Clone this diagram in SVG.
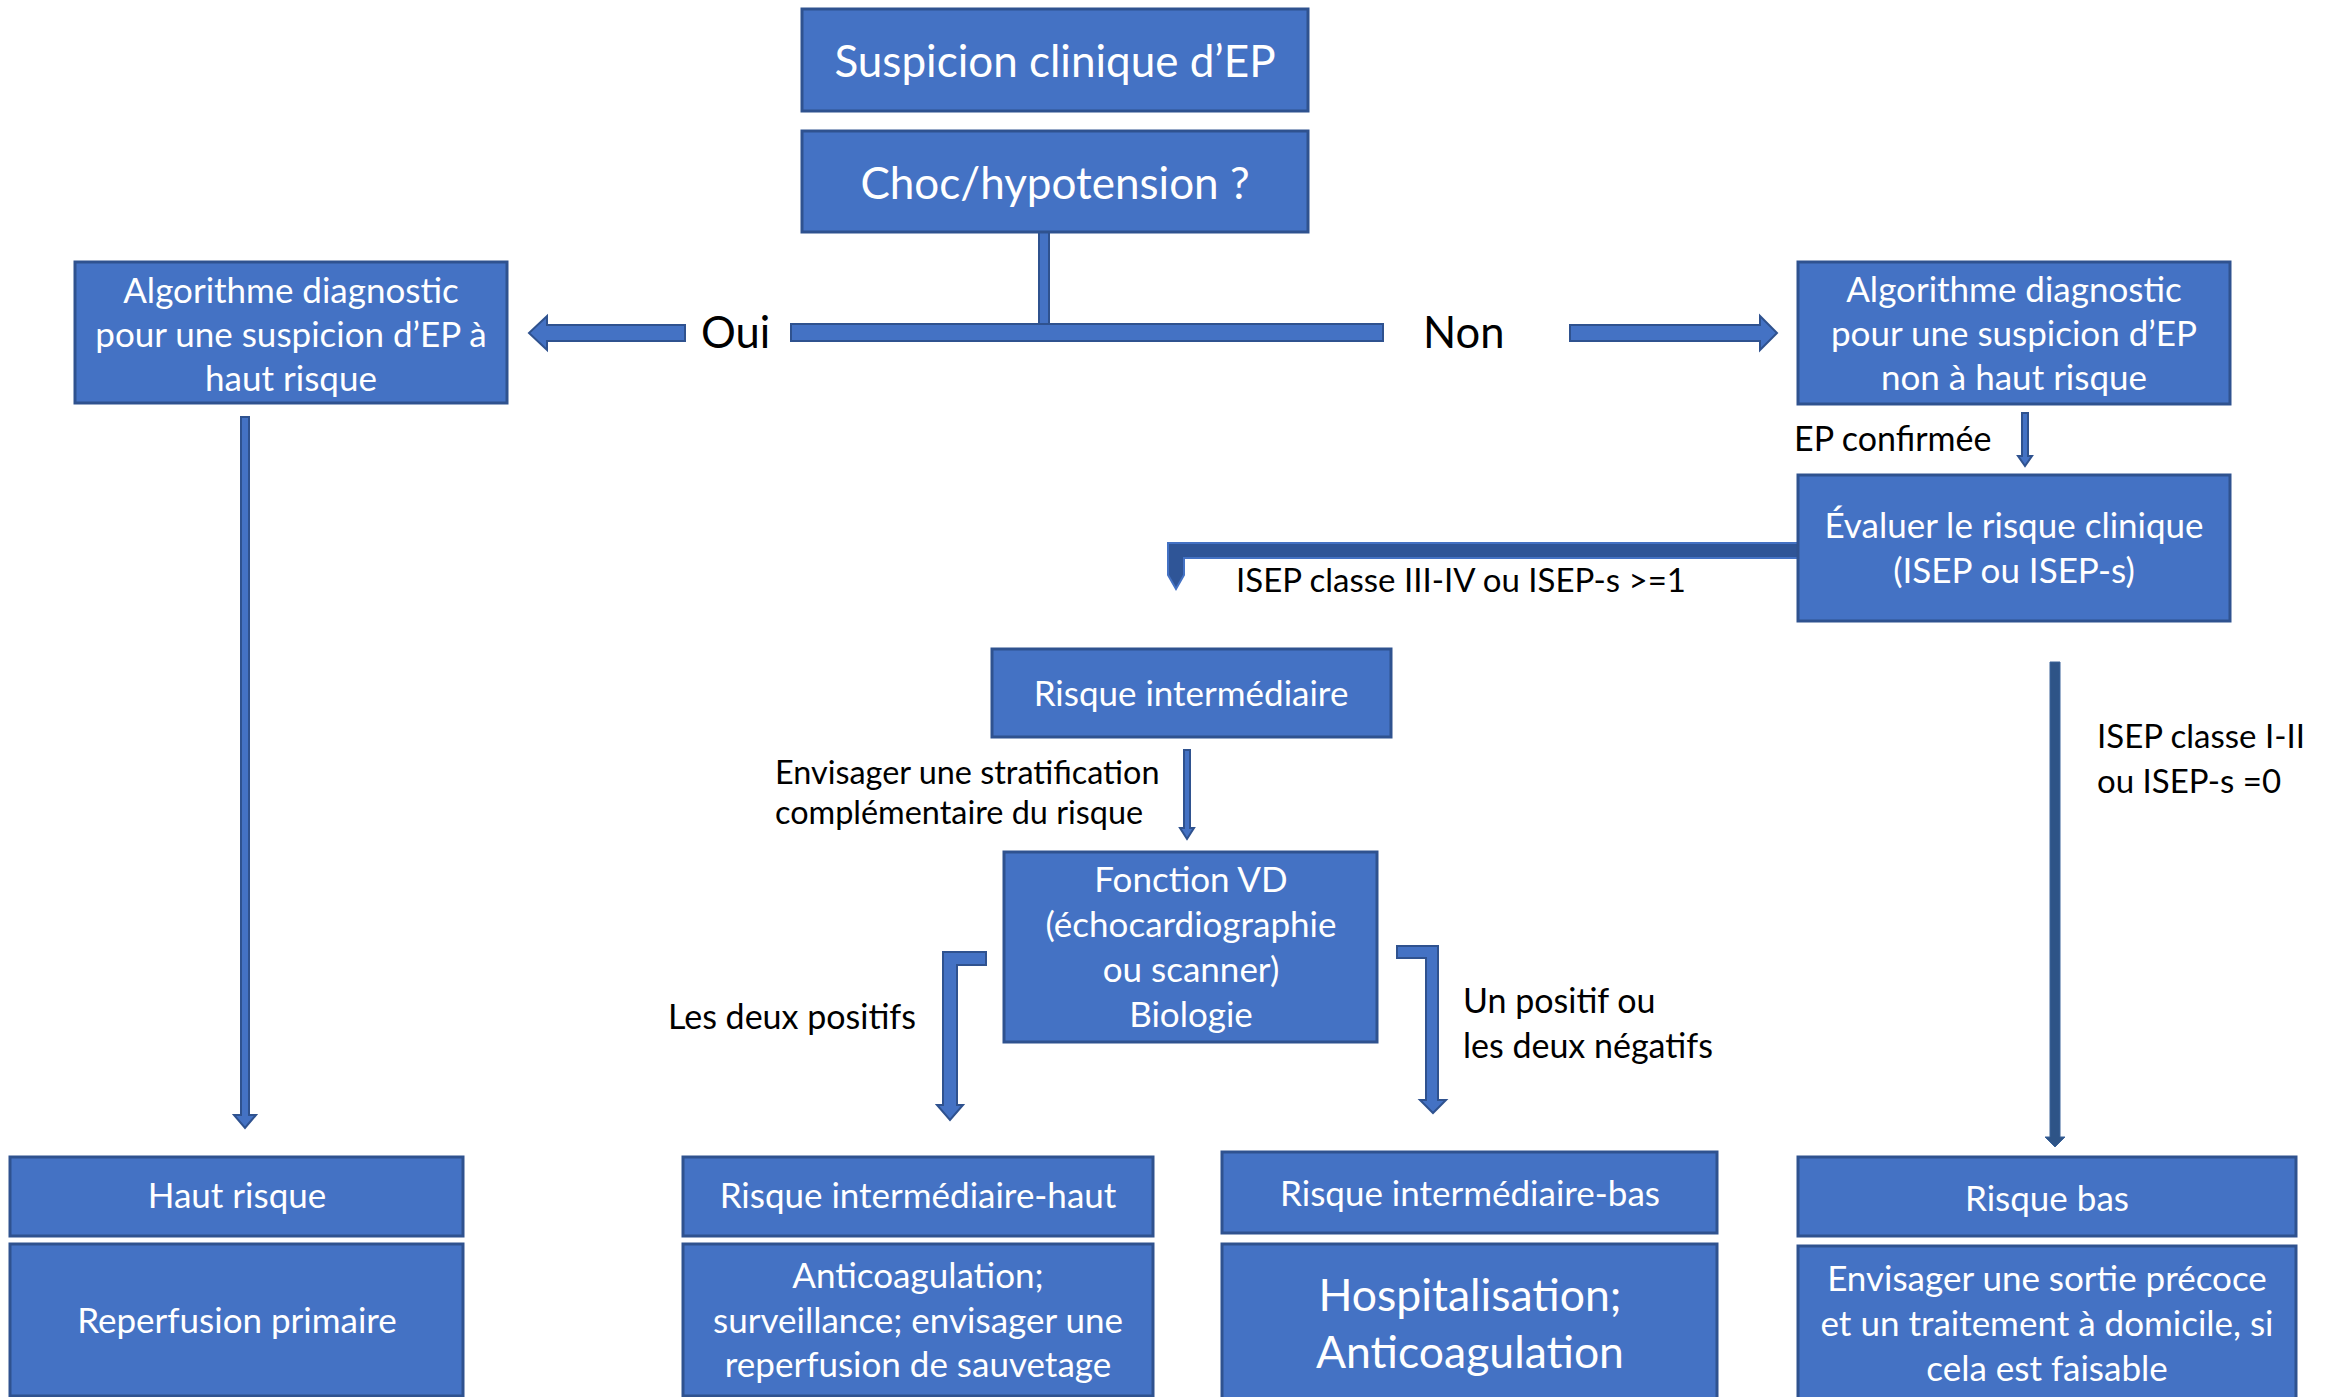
<svg xmlns="http://www.w3.org/2000/svg" width="2331" height="1397" viewBox="0 0 2331 1397">
<style>
.n{fill:#4472C4;stroke:#2F528F;stroke-width:3}
.a{fill:#4472C4;stroke:#2F528F;stroke-width:2}
.d{fill:#2F5597;stroke:#4472C4;stroke-width:2}
.t{font-family:Lato,"Liberation Sans",sans-serif;fill:#fff;font-size:35px;text-anchor:middle}
.l{font-family:Lato,"Liberation Sans",sans-serif;fill:#000;font-size:34px}
.big{font-size:44px}
.yn{font-size:43.5px}
.hosp{font-size:44.5px}
.strat{font-size:32.4px}
.isep{font-size:33px}
</style>
<rect width="2331" height="1397" fill="#fff"/>
<g id="connectors">
<rect class="a" x="1039" y="229" width="10" height="101"/>
<rect class="a" x="791" y="324" width="592" height="17"/>
<polygon class="a" points="685,325 547,325 547,316 529,333 547,350 547,341 685,341"/>
<polygon class="a" points="1570,325 1760,325 1760,316 1777,333 1760,350 1760,341 1570,341"/>
<polygon class="a" points="241,417 249,417 249,1115 256,1115 245,1128 234,1115 241,1115"/>
<polygon class="a" points="2022,413 2028,413 2028,456 2032,456 2025,466 2018,456 2022,456"/>
<polygon class="d" points="1798,543 1168,543 1168,575 1176,589 1184,575 1184,558 1798,558"/>
<polygon class="a" points="1184,750 1190,750 1190,828 1194,828 1187,839 1180,828 1184,828"/>
<polygon class="a" points="986,952 943,952 943,1105 937,1105 950,1120 963,1105 957,1105 957,965 986,965"/>
<polygon class="a" points="1397,946 1438,946 1438,1100 1446,1100 1433,1113 1420,1100 1426,1100 1426,958 1397,958"/>
<polygon fill="#2E5487" stroke="#3A6299" stroke-width="1" points="2050,662 2060,662 2060,1137 2065,1137 2055,1147 2045,1137 2050,1137"/>
</g>
<g id="labels">
<text class="l yn" x="701" y="348">Oui</text>
<text class="l yn" x="1423" y="348">Non</text>
<text class="l" x="1794" y="451">EP confirmée</text>
<text class="l isep" x="1236" y="592">ISEP classe III-IV ou ISEP-s &gt;=1</text>
<text class="l strat" x="775" y="784">Envisager une stratification</text>
<text class="l strat" x="775" y="824">complémentaire du risque</text>
<text class="l" x="668" y="1029">Les deux positifs</text>
<text class="l" x="1463" y="1013">Un positif ou</text>
<text class="l" x="1463" y="1058">les deux négatifs</text>
<text class="l isep" x="2097" y="748">ISEP classe I-II</text>
<text class="l isep" x="2097" y="793">ou ISEP-s =0</text>
</g>
<g id="n-suspicion"><rect class="n" x="802" y="9" width="506" height="102"/><text class="t big" x="1055" y="77">Suspicion clinique d’EP</text></g>
<g id="n-choc"><rect class="n" x="802" y="131" width="506" height="101"/><text class="t big" x="1055" y="199">Choc/hypotension ?</text></g>
<g id="n-algo-haut"><rect class="n" x="75" y="262" width="432" height="141"/>
<text class="t" x="291" y="303">Algorithme diagnostic</text><text class="t" x="291" y="347">pour une suspicion d’EP à</text><text class="t" x="291" y="391">haut risque</text></g>
<g id="n-algo-non"><rect class="n" x="1798" y="262" width="432" height="142"/>
<text class="t" x="2014" y="302">Algorithme diagnostic</text><text class="t" x="2014" y="346">pour une suspicion d’EP</text><text class="t" x="2014" y="390">non à haut risque</text></g>
<g id="n-evaluer"><rect class="n" x="1798" y="475" width="432" height="146"/>
<text class="t" x="2014" y="538">Évaluer le risque clinique</text><text class="t" x="2014" y="583">(ISEP ou ISEP-s)</text></g>
<g id="n-interm"><rect class="n" x="992" y="649" width="399" height="88"/><text class="t" x="1191" y="706">Risque intermédiaire</text></g>
<g id="n-fonction"><rect class="n" x="1004" y="852" width="373" height="190"/>
<text class="t" x="1191" y="892">Fonction VD</text><text class="t" x="1191" y="937">(échocardiographie</text><text class="t" x="1191" y="982">ou scanner)</text><text class="t" x="1191" y="1027">Biologie</text></g>
<g id="n-haut"><rect class="n" x="10" y="1157" width="453" height="79"/><text class="t" x="237" y="1208">Haut risque</text></g>
<g id="n-reperfusion"><rect class="n" x="10" y="1244" width="453" height="152"/><text class="t" x="237" y="1333">Reperfusion primaire</text></g>
<g id="n-interm-haut"><rect class="n" x="683" y="1157" width="470" height="79"/><text class="t" x="918" y="1208">Risque intermédiaire-haut</text></g>
<g id="n-anticoag"><rect class="n" x="683" y="1244" width="470" height="152"/>
<text class="t" x="918" y="1288">Anticoagulation;</text><text class="t" x="918" y="1333">surveillance; envisager une</text><text class="t" x="918" y="1377">reperfusion de sauvetage</text></g>
<g id="n-interm-bas"><rect class="n" x="1222" y="1152" width="495" height="81"/><text class="t" x="1470" y="1206">Risque intermédiaire-bas</text></g>
<g id="n-hospit"><rect class="n" x="1222" y="1244" width="495" height="160"/>
<text class="t hosp" x="1470" y="1311">Hospitalisation;</text><text class="t hosp" x="1470" y="1368">Anticoagulation</text></g>
<g id="n-bas"><rect class="n" x="1798" y="1157" width="498" height="79"/><text class="t" x="2047" y="1211">Risque bas</text></g>
<g id="n-sortie"><rect class="n" x="1798" y="1246" width="498" height="158"/>
<text class="t" x="2047" y="1291">Envisager une sortie précoce</text><text class="t" x="2047" y="1336">et un traitement à domicile, si</text><text class="t" x="2047" y="1381">cela est faisable</text></g>
</svg>
